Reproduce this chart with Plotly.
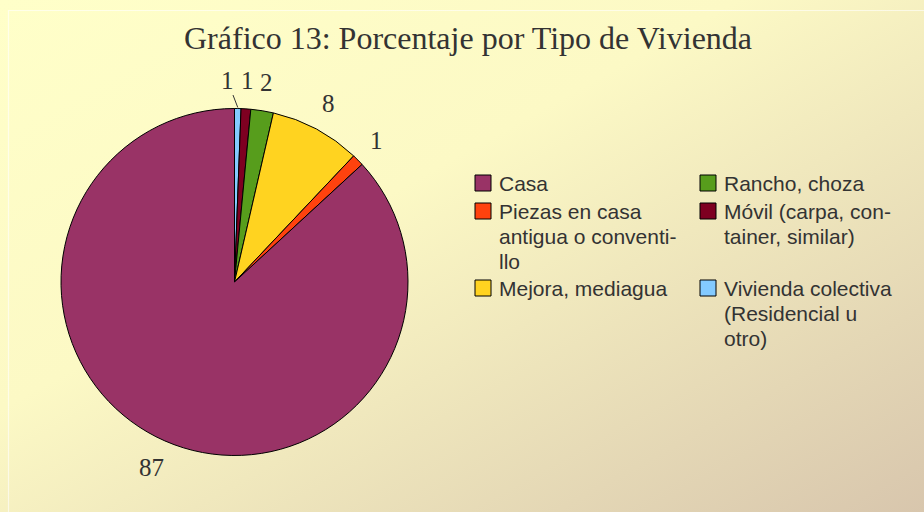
import math
import plotly.graph_objects as go

# Data, clockwise from 12 o'clock
labels = ["Vivienda colectiva (Residencial u otro)", "Móvil (carpa, container, similar)",
          "Rancho, choza", "Mejora, mediagua", "Piezas en casa antigua o conventillo", "Casa"]
values = [0.6, 0.9, 2.1, 8.45, 1.1, 86.85]
colors = ["#83CAFF", "#7E0021", "#579D1C", "#FFD320", "#FF420E", "#993366"]

legend_lines = [["Casa"], ["Piezas en casa", "antigua o conventi-", "llo"], ["Mejora, mediagua"],
                ["Rancho, choza"], ["Móvil (carpa, con-", "tainer, similar)"],
                ["Vivienda colectiva", "(Residencial u", "otro)"]]
legend_colors = ["#993366", "#FF420E", "#FFD320", "#579D1C", "#7E0021", "#83CAFF"]

title_text = "Gráfico 13: Porcentaje por Tipo de Vivienda"

W, H = 924, 512
cx, cy, r = 234.5, 282, 173.5
label_r = 193.5
char_hw, text_hh = 6.2, 8.5
label_nudge = [-11, 0, 0, 0, 0, 0]   # horizontal px shift of crowded labels (with leader line)

fig = go.Figure()
fig.add_trace(go.Pie(
    labels=labels, values=values, sort=False, direction="clockwise",
    rotation=0, marker=dict(colors=colors, line=dict(color="#000000", width=1)),
    textinfo="none", showlegend=False, hoverinfo="label+value",
    domain=dict(x=[(cx - r) / W, (cx + r) / W], y=[(H - cy - r) / H, (H - cy + r) / H]),
))


def px_to_paper(x, y):
    return x / W, 1 - y / H


shapes = []
annotations = []

# value labels around the pie, from the cumulative data
total = sum(values)
cum = 0.0
for i, v in enumerate(values):
    mid = (cum + v / 2) / total * 2 * math.pi
    cum += v
    txt = str(int(math.floor(v + 0.5)))
    s, c = math.sin(mid), math.cos(mid)
    lx = cx + label_r * s + char_hw * len(txt) * s + label_nudge[i]
    ly = cy - label_r * c - text_hh * c
    font = dict(family="Liberation Serif", size=25, color="#333333")
    if label_nudge[i]:
        tx = cx + (r + 1) * s
        ty = cy - (r + 1) * c
        px, py = px_to_paper(tx, ty)
        annotations.append(dict(xref="paper", yref="paper", x=px, y=py, ax=lx - tx, ay=ly - ty,
                                text=txt, showarrow=True, arrowhead=0, arrowwidth=1,
                                arrowcolor="#333333", standoff=0, font=font))
    else:
        px, py = px_to_paper(lx, ly)
        annotations.append(dict(xref="paper", yref="paper", x=px, y=py, xanchor="center",
                                yanchor="middle", text=txt, showarrow=False, font=font))

# light inner frame
shapes.append(dict(type="rect", xref="paper", yref="paper", x0=8.5 / W, x1=1.2, y0=-0.2,
                   y1=1 - 10.5 / H, line=dict(color="rgba(255,255,255,0.6)", width=1.2),
                   fillcolor="rgba(0,0,0,0)", layer="below"))

# manual two-column legend
col_x = [475, 700]
row_y = [183, 211, 288]
line_gap = 25
fs = 21
for i in range(6):
    c, k = divmod(i, 3)
    yc = row_y[k]
    x0 = col_x[c]
    shapes.append(dict(type="rect", xref="paper", yref="paper",
                       x0=x0 / W, x1=(x0 + 16) / W, y0=(H - yc - 8) / H, y1=(H - yc + 8) / H,
                       fillcolor=legend_colors[i], line=dict(color="#000000", width=1)))
    for j, line in enumerate(legend_lines[i]):
        ly = yc + j * line_gap
        annotations.append(dict(xref="paper", yref="paper", x=(x0 + 22) / W, y=(H - ly) / H,
                                xanchor="left", yanchor="middle", align="left", showarrow=False,
                                text=line,
                                font=dict(family="Liberation Sans", size=fs, color="#333333")))

annotations.append(dict(xref="paper", yref="paper", x=468 / W, y=(H - 38) / H, xanchor="center",
                        yanchor="middle", showarrow=False, text=title_text,
                        font=dict(family="Liberation Serif", size=32, color="#333333")))

svg = ("data:image/svg+xml;utf8,<svg xmlns='http://www.w3.org/2000/svg' width='924' height='512' "
       "preserveAspectRatio='none'><defs><linearGradient id='g' x1='0' y1='0' x2='1' y2='1'>"
       "<stop offset='0' stop-color='%23FFFFC9'/><stop offset='0.4' stop-color='%23FCF9C5'/>"
       "<stop offset='1' stop-color='%23D8C6AD'/></linearGradient></defs>"
       "<rect width='924' height='512' fill='url(%23g)'/></svg>")

fig.update_layout(
    width=W, height=H, margin=dict(l=0, r=0, t=0, b=0),
    paper_bgcolor="#FDFBC6", plot_bgcolor="rgba(0,0,0,0)",
    images=[dict(source=svg, xref="paper", yref="paper", x=0, y=1, sizex=1, sizey=1,
                 sizing="stretch", layer="below", xanchor="left", yanchor="top")],
    shapes=shapes, annotations=annotations,
)

fig.write_html("out.html", config={"displayModeBar": False},
               post_script="document.body.style.margin='0';document.body.style.overflow='hidden';")
